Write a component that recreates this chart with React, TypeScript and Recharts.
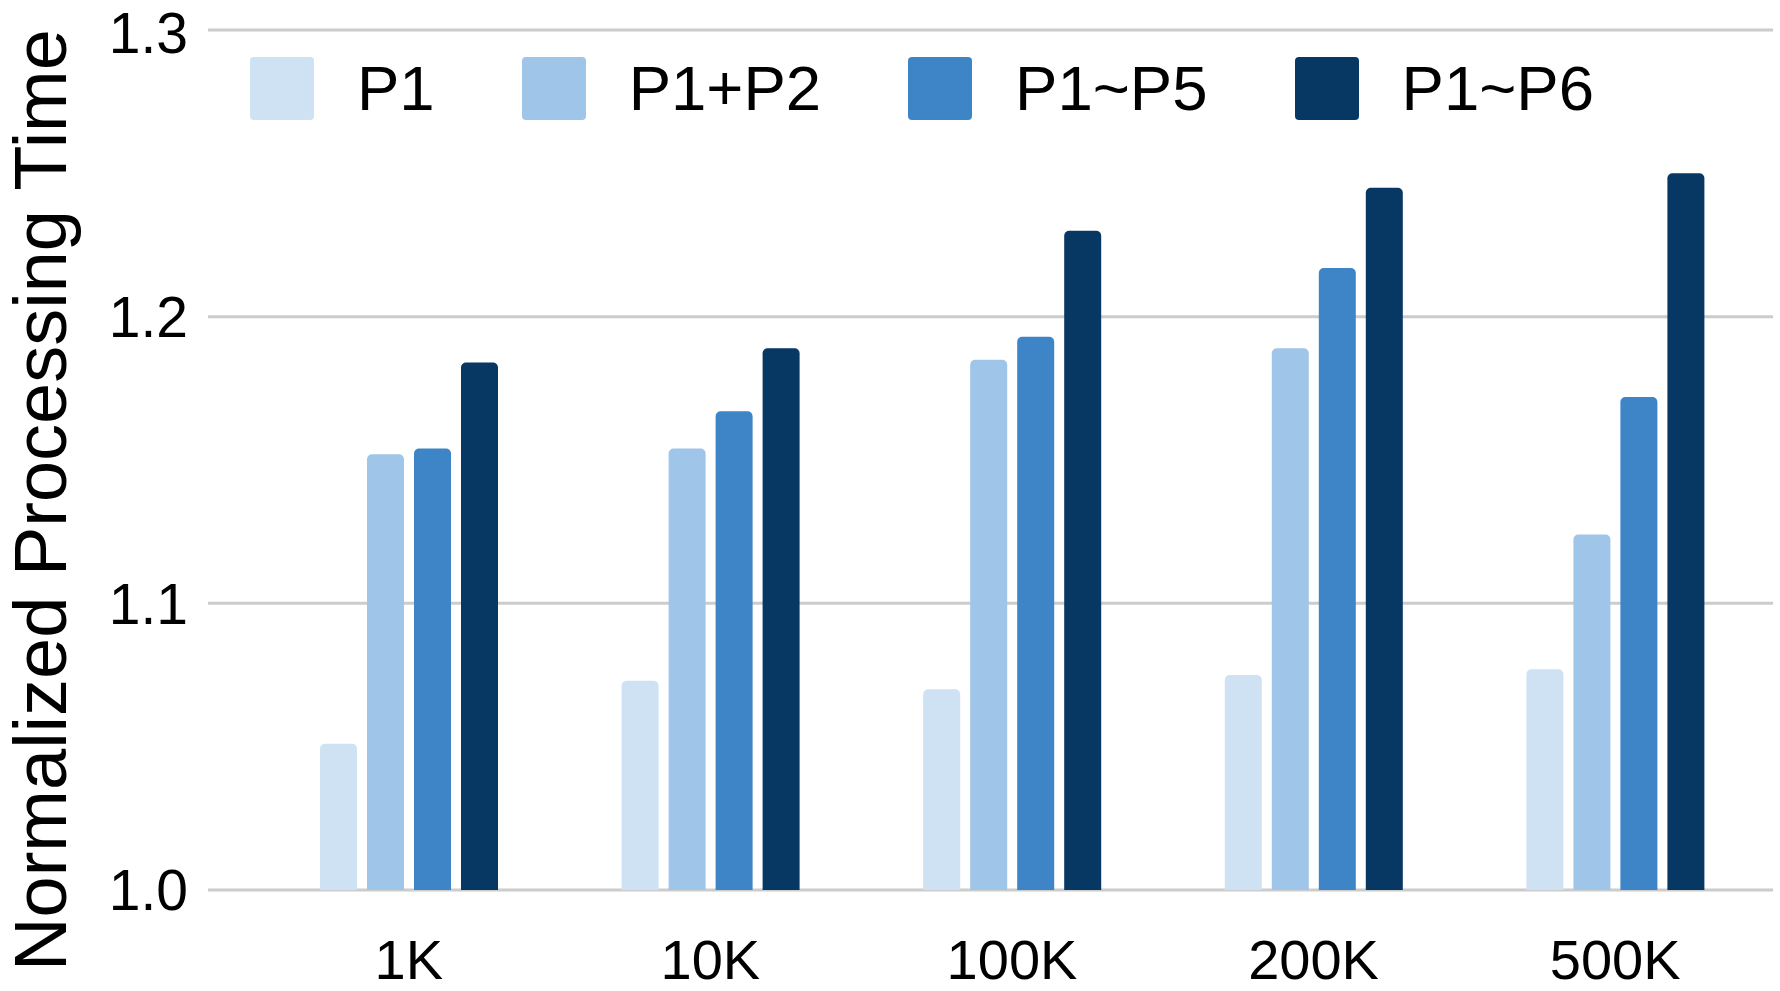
import React from "react";
import {
  Bar,
  BarChart,
  CartesianGrid,
  Label,
  Legend,
  XAxis,
  YAxis,
} from "recharts";

const categories = ["1K", "10K", "100K", "200K", "500K"];
const seriesNames = ["P1", "P1+P2", "P1~P5", "P1~P6"];
const p1 = [1.051, 1.073, 1.07, 1.075, 1.077];
const p1p2 = [1.152, 1.154, 1.185, 1.189, 1.124];
const p1p5 = [1.154, 1.167, 1.193, 1.217, 1.172];
const p1p6 = [1.184, 1.189, 1.23, 1.245, 1.25];
const yTicks = [1.0, 1.1, 1.2, 1.3];
const colors = ["#cfe2f3", "#9fc5e8", "#3d85c6", "#073763"];

const data = categories.map((name, i) => ({
  name,
  s0: p1[i],
  s1: p1p2[i],
  s2: p1p5[i],
  s3: p1p6[i],
}));

const font = "'Liberation Sans', Arial, sans-serif";

const LegendBox = (props: any) => {
  const items = props.payload || [];
  return (
    <div style={{ display: "flex", alignItems: "center", fontFamily: font }}>
      {items.map((entry: any, i: number) => (
        <div
          key={`leg-${i}`}
          style={{ display: "flex", alignItems: "center", marginRight: 87 }}
        >
          <div
            style={{
              width: 64,
              height: 63,
              borderRadius: 4,
              background: entry.color,
            }}
          />
          <span
            style={{
              marginLeft: 43,
              fontSize: 63.5,
              lineHeight: 1,
              color: "#000",
            }}
          >
            {entry.value}
          </span>
        </div>
      ))}
    </div>
  );
};

const YTitle = () => (
  <text
    x={66}
    y={500}
    transform="rotate(-90, 66, 500)"
    textAnchor="middle"
    fontSize={74}
    fill="#000"
    fontFamily={font}
  >
    Normalized Processing Time
  </text>
);

export default function App() {
  return (
    <div style={{ position: "absolute", left: 0, top: 0, background: "#fff" }}>
      <BarChart
        width={1780}
        height={991}
        data={data}
        margin={{ top: 30, right: 7, bottom: 0, left: 0 }}
        barSize={37}
        barGap={10}
      >
        <CartesianGrid vertical={false} stroke="#cccccc" strokeWidth={3} />
        <XAxis
          dataKey="name"
          height={101}
          axisLine={false}
          tickLine={false}
          tickMargin={43}
          padding={{ left: 50, right: 7 }}
          tick={{ fontSize: 56, fill: "#000", fontFamily: font }}
          interval={0}
        />
        <YAxis
          width={208}
          domain={[1.0, 1.3]}
          ticks={yTicks}
          axisLine={false}
          tickLine={false}
          tickMargin={14}
          tickFormatter={(v: number) => v.toFixed(1)}
          tick={{ fontSize: 57, fill: "#000", fontFamily: font }}
        >
          <Label content={<YTitle />} />
        </YAxis>
        <Legend
          verticalAlign="middle"
          align="center"
          layout="horizontal"
          content={<LegendBox />}
          wrapperStyle={{ top: 57, left: 250, width: "auto", height: 63 }}
        />
        {seriesNames.map((s, i) => (
          <Bar
            key={s}
            dataKey={`s${i}`}
            name={s}
            fill={colors[i]}
            radius={[5, 5, 0, 0]}
            isAnimationActive={false}
          />
        ))}
      </BarChart>
    </div>
  );
}
